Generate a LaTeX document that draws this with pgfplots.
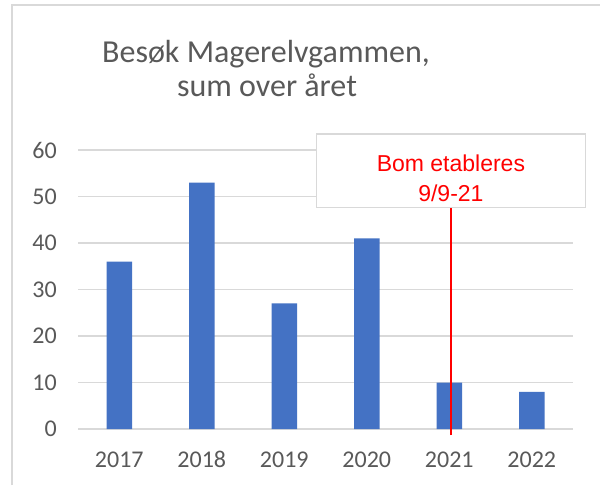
\documentclass[border=0pt]{standalone}
\usepackage{fontspec}
\setmainfont{Carlito}
\newfontfamily\arialfont{Liberation Sans}
\usepackage{pgfplots}
\pgfplotsset{compat=1.18}
\definecolor{barblue}{HTML}{4472C4}
\definecolor{gridgray}{HTML}{D9D9D9}
\definecolor{textgray}{HTML}{595959}
\definecolor{exred}{HTML}{FF0000}
\begin{document}
\begin{tikzpicture}[x=1pt,y=1pt]
\useasboundingbox (0,0) rectangle (600,485);
\fill[white] (0,0) rectangle (600,485);
\draw[gridgray, line width=1.5pt] (12,0) -- (12,480) -- (600,480);
\node[anchor=base, text=textgray, font=\fontsize{32}{36}\selectfont] at (266,422) {Besøk Magerelvgammen,};
\node[anchor=base, text=textgray, font=\fontsize{32}{36}\selectfont] at (267,388) {sum over året};
\begin{axis}[
  at={(78pt,56pt)}, anchor=south west,
  scale only axis, width=495pt, height=279pt,
  xmin=-0.5, xmax=5.5, ymin=0, ymax=60,
  clip=false,
  axis line style={draw=none},
  ytick={0,10,...,60},
  xtick={0,1,2,3,4,5},
  xticklabels={2017,2018,2019,2020,2021,2022},
  major tick length=0pt,
  ymajorgrids, grid style={gridgray, line width=1.5pt},
  /pgf/number format/assume math mode=true,
  ticklabel style={text=textgray, font=\fontsize{24}{28}\selectfont, inner sep=0pt},
  yticklabel style={anchor=east, xshift=-21pt},
  xticklabel style={anchor=base, yshift=-38.3pt},
  ybar, bar width=25.5pt,
]
\addplot[fill=barblue, draw=none] coordinates {(0,36) (1,53) (2,27) (3,41) (4,10) (5,8)};
\draw[gridgray, fill=white, line width=1.5pt] (axis cs:2.39,47.6) rectangle (axis cs:5.65,63.4);
\node[anchor=base, text=exred, font=\arialfont\fontsize{23}{27}\selectfont] at (axis cs:4.02,55.3) {Bom etableres};
\node[anchor=base, text=exred, font=\arialfont\fontsize{23}{27}\selectfont] at (axis cs:4.02,49.0) {9/9-21};
\addplot[sharp plot, exred, line width=1.2pt, forget plot] coordinates {(4.02,-1.3) (4.02,47.6)};
\end{axis}
\end{tikzpicture}
\end{document}
